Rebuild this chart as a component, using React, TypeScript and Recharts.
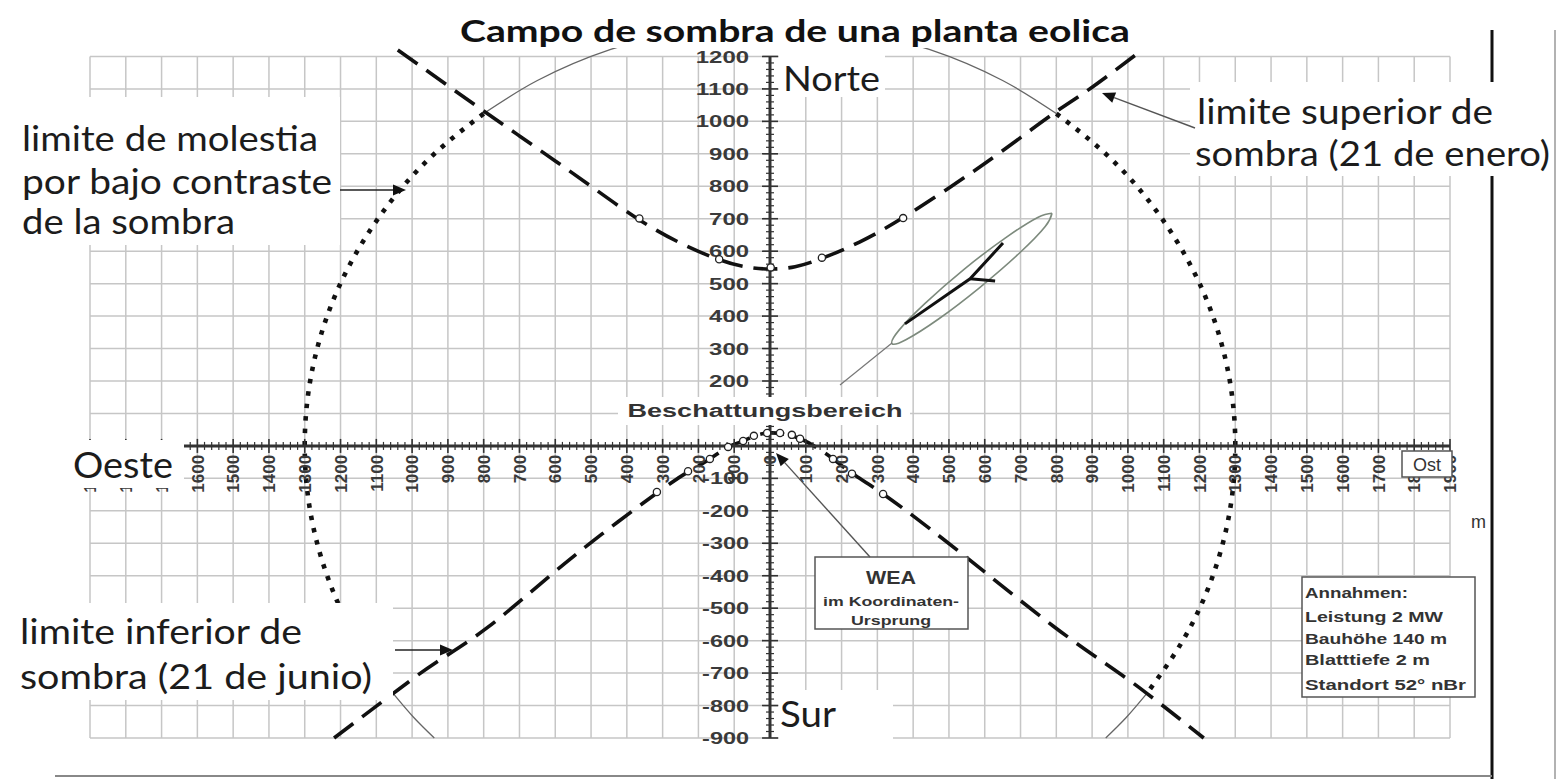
import React from 'react';
import { ComposedChart, XAxis, YAxis, Line, Scatter } from 'recharts';

const W = 1562;
const H = 779;

// axis ticks (m)
const xTicks = [
  -1900, -1800, -1700, -1600, -1500, -1400, -1300, -1200, -1100, -1000, -900, -800, -700, -600, -500, -400, -300, -200, -100,
  0, 100, 200, 300, 400, 500, 600, 700, 800, 900, 1000, 1100, 1200, 1300, 1400, 1500, 1600, 1700, 1800, 1900,
];
const yTicks = [-900, -800, -700, -600, -500, -400, -300, -200, -100, 0, 100, 200, 300, 400, 500, 600, 700, 800, 900, 1000, 1100, 1200];
const yTickLabels = [-900, -800, -700, -600, -500, -400, -300, -200, -100, 200, 300, 400, 500, 600, 700, 800, 900, 1000, 1100, 1200];

// limite superior de sombra (21 de enero)
const upperX = [-1040, -900, -800, -700, -600, -500, -370, -250, -145, -70, 0, 70, 145, 250, 370, 500, 600, 700, 800, 900, 1040];
const upperY = [1220, 1110, 1032, 955, 878, 800, 700, 625, 575, 552, 545, 552, 578, 628, 702, 795, 870, 950, 1030, 1105, 1220];
const upperMarkX = [-365, -142, 2, 145, 372];
const upperMarkY = [701, 575, 550, 580, 702];

// limite inferior de sombra (21 de junio)
const lowerX = [-1218, -1040, -930, -790, -620, -470, -316, -229, -168, -117, -75, -40, 0, 40, 84, 130, 176, 229, 316, 450, 606, 790, 930, 1050, 1212];
const lowerY = [-900, -752, -665, -560, -405, -272, -145, -80, -40, -3, 15, 32, 40, 36, 22, -5, -40, -84, -148, -258, -394, -554, -665, -760, -900];
const lowerMarkX = [-316, -229, -168, -117, -75, -45, -8, 28, 61, 84, 176, 229, 316];
const lowerMarkY = [-142, -78, -40, -3, 15, 31, 40, 40, 34, 22, -40, -86, -148];

// limite de molestia por bajo contraste (r = 1300 m)
const dotLeftX = [-800, -935, -1052, -1148, -1222, -1272, -1297, -1297, -1272, -1222, -1148, -1052];
const dotLeftY = [1024, 903, 764, 610, 445, 270, 91, -91, -270, -445, -610, -764];
const dotRightX = [800, 935, 1052, 1148, 1222, 1272, 1297, 1297, 1272, 1222, 1148, 1052];
const dotRightY = [1024, 903, 764, 610, 445, 270, 91, -91, -270, -445, -610, -764];
const arcTopX = [800, 650, 445, 226, 0, -226, -445, -650, -800];
const arcTopY = [1024, 1126, 1222, 1280, 1300, 1280, 1222, 1126, 1024];
const arcLowLeftX = [-1052, -996, -938];
const arcLowLeftY = [-764, -836, -900];
const arcLowRightX = [1052, 996, 938];
const arcLowRightY = [-764, -836, -900];

// Beschattungsbereich
const zoneX = [788, 769, 695, 586, 471, 381, 341, 360, 434, 543, 658, 748, 788];
const zoneY = [717, 676, 592, 488, 391, 328, 315, 356, 440, 545, 641, 704, 717];
const rotorX = [377, 559, 651];
const rotorY = [376, 515, 625];
const armX = [559, 629];
const armY = [515, 508];

const pts = (xs: number[], ys: number[]) => xs.map((x, i) => ({ x, y: ys[i] }));

const minorX: { x: number; y: number }[] = [];
for (let v = -1900; v <= 1900; v += 20) if (v % 100 !== 0) minorX.push({ x: v, y: 0 });
const minorY: { x: number; y: number }[] = [];
for (let v = -900; v <= 1200; v += 20) if (v % 100 !== 0) minorY.push({ x: 0, y: v });

const tickFont = "'Liberation Sans', Arial, sans-serif";
const ink = '#111';

const XMinor = (p: any) => <line x1={p.cx} x2={p.cx} y1={p.cy - 4} y2={p.cy + 4} stroke="#333" strokeWidth={1.2} />;
const YMinor = (p: any) => <line x1={p.cx - 4} x2={p.cx + 4} y1={p.cy} y2={p.cy} stroke="#333" strokeWidth={1.2} />;

const XMajor = (p: any) => (
  <g>
    <line x1={p.cx} x2={p.cx} y1={p.cy - 7} y2={p.cy + 7} stroke="#333" strokeWidth={1.6} />
    <text
      transform={`translate(${p.cx + 6.2},${p.cy + 9}) rotate(-90)`}
      textAnchor="end"
      fontFamily={tickFont}
      fontWeight="bold"
      fontSize={17}
      fill="#3a3a3a"
    >
      {Math.abs(p.payload.x)}
    </text>
  </g>
);

const YMajor = (p: any) => <line x1={p.cx - 8} x2={p.cx + 8} y1={p.cy} y2={p.cy} stroke="#333" strokeWidth={1.6} />;

const YLabel = (p: any) => {
  const s = String(p.payload.y);
  const len = s.replace('-', '').length * 13.3 + (s.startsWith('-') ? 7 : 0);
  return (
    <text
      x={p.cx - 21}
      y={p.cy}
      dy="0.36em"
      textAnchor="end"
      textLength={len}
      lengthAdjust="spacingAndGlyphs"
      fontFamily={tickFont}
      fontWeight="bold"
      fontSize={17}
      fill="#3a3a3a"
    >
      {s}
    </text>
  );
};

const Marker = (p: any) => <circle cx={p.cx} cy={p.cy} r={3.6} fill="#fff" stroke="#222" strokeWidth={1.3} />;

const Arrow = ({ x1, y1, x2, y2, color = '#222' }: { x1: number; y1: number; x2: number; y2: number; color?: string }) => {
  const a = Math.atan2(y2 - y1, x2 - x1);
  const L = 13;
  const w = 5.5;
  const bx = x2 - L * Math.cos(a);
  const by = y2 - L * Math.sin(a);
  const p1 = `${x2},${y2}`;
  const p2 = `${bx - w * Math.sin(a)},${by + w * Math.cos(a)}`;
  const p3 = `${bx + w * Math.sin(a)},${by - w * Math.cos(a)}`;
  return (
    <g>
      <line x1={x1} y1={y1} x2={bx} y2={by} stroke={color} strokeWidth={1.4} />
      <polygon points={`${p1} ${p2} ${p3}`} fill="#111" />
    </g>
  );
};

const lato = 'Lato, sans-serif';
const big = { fontFamily: lato, fontSize: 35, fill: '#1c1c1c' } as const;
const box = { fontFamily: tickFont, fontWeight: 'bold' as const, fill: '#333' };

const line = (key: string, data: { x: number; y: number }[], stroke: string, width: number, dash?: string, type: any = 'natural') => (
  <Line
    key={key}
    data={data}
    dataKey="y"
    type={type}
    stroke={stroke}
    strokeWidth={width}
    strokeDasharray={dash}
    dot={false}
    activeDot={false}
    legendType="none"
    isAnimationActive={false}
  />
);

export default function App() {
  return (
    <div style={{ position: 'absolute', left: 0, top: 0, width: W, height: H, background: '#fff' }}>
      <ComposedChart width={W} height={H} margin={{ top: 24, right: 112, bottom: 41, left: 90 }}>
        <XAxis type="number" dataKey="x" domain={[-1900, 1900]} hide />
        <YAxis type="number" dataKey="y" domain={[-900, 1300]} hide />

        {xTicks.map((v) => line(`gx${v}`, [{ x: v, y: -900 }, { x: v, y: 1200 }], '#c6c6c6', 1.5, undefined, 'linear'))}
        {yTicks.map((v) => line(`gy${v}`, [{ x: -1900, y: v }, { x: 1900, y: v }], '#c6c6c6', 1.5, undefined, 'linear'))}

        {line('arcTop', pts(arcTopX, arcTopY), '#666', 1.3)}
        {line('arcLL', pts(arcLowLeftX, arcLowLeftY), '#666', 1.3)}
        {line('arcLR', pts(arcLowRightX, arcLowRightY), '#666', 1.3)}
        {line('dotL', pts(dotLeftX, dotLeftY), ink, 4.6, '4.5 8')}
        {line('dotR', pts(dotRightX, dotRightY), ink, 4.6, '4.5 8')}
        {line('zone', pts(zoneX, zoneY), '#7d8a7d', 1.6)}
        {line('rotor', pts(rotorX, rotorY), ink, 3, undefined, 'linear')}
        {line('arm', pts(armX, armY), ink, 3, undefined, 'linear')}
        {line('upper', pts(upperX, upperY), ink, 3.6, '24 11')}
        {line('lower', pts(lowerX, lowerY), ink, 3.6, '24 11')}

        {line('axX', [{ x: -1900, y: 0 }, { x: 1900, y: 0 }], '#333', 3, undefined, 'linear')}
        {line('axY', [{ x: 0, y: -900 }, { x: 0, y: 1200 }], '#333', 3, undefined, 'linear')}

        <Scatter data={minorX} shape={XMinor} isAnimationActive={false} legendType="none" />
        <Scatter data={minorY} shape={YMinor} isAnimationActive={false} legendType="none" />
        <Scatter data={xTicks.map((x) => ({ x, y: 0 }))} shape={XMajor} isAnimationActive={false} legendType="none" />
        <Scatter data={yTicks.map((y) => ({ x: 0, y }))} shape={YMajor} isAnimationActive={false} legendType="none" />
        <Scatter data={yTickLabels.map((y) => ({ x: 0, y }))} shape={YLabel} isAnimationActive={false} legendType="none" />
        <Scatter data={pts(upperMarkX, upperMarkY)} shape={Marker} isAnimationActive={false} legendType="none" />
        <Scatter data={pts(lowerMarkX, lowerMarkY)} shape={Marker} isAnimationActive={false} legendType="none" />
      </ComposedChart>

      <svg width={W} height={H} style={{ position: 'absolute', left: 0, top: 0, pointerEvents: 'none' }}>
        <line x1={1492} y1={30} x2={1492} y2={779} stroke="#111" strokeWidth={3} />
        <line x1={1555} y1={30} x2={1555} y2={779} stroke="#999" strokeWidth={1.5} />
        <line x1={55} y1={776} x2={1492} y2={776} stroke="#888" strokeWidth={2} />

        <rect x={455} y={4} width={680} height={44} fill="#fff" />
        <rect x={779} y={52} width={106} height={45} fill="#fff" />
        <rect x={779} y={690} width={114} height={56} fill="#fff" />
        <rect x={62} y={440} width={122} height={48} fill="#fff" />
        <rect x={0} y={97} width={340} height={148} fill="#fff" />
        <rect x={1190} y={82} width={362} height={94} fill="#fff" />
        <rect x={0} y={603} width={393} height={97} fill="#fff" />
        <rect x={618} y={397} width={292} height={28} fill="#fff" />

        <text x={795} y={42} textAnchor="middle" textLength={670} lengthAdjust="spacingAndGlyphs" fontFamily={lato} fontWeight="bold" fontSize={31} fill="#111">
          Campo de sombra de una planta eolica
        </text>
        <text x={783} y={91} textLength={97} lengthAdjust="spacingAndGlyphs" {...big} fontSize={34}>Norte</text>
        <text x={780} y={727} textLength={56} lengthAdjust="spacingAndGlyphs" {...big} fontSize={37}>Sur</text>
        <text x={73} y={478} textLength={100} lengthAdjust="spacingAndGlyphs" {...big} fontSize={36}>Oeste</text>

        <text x={22} y={151} textLength={296} lengthAdjust="spacingAndGlyphs" {...big}>limite de molestia</text>
        <text x={22} y={194} textLength={310} lengthAdjust="spacingAndGlyphs" {...big}>por bajo contraste</text>
        <text x={22} y={234} textLength={213} lengthAdjust="spacingAndGlyphs" {...big}>de la sombra</text>
        <Arrow x1={340} y1={190} x2={406} y2={190} />

        <text x={1197} y={124} textLength={296} lengthAdjust="spacingAndGlyphs" {...big}>limite superior de</text>
        <text x={1195} y={166} textLength={355} lengthAdjust="spacingAndGlyphs" {...big}>sombra (21 de enero)</text>
        <Arrow x1={1195} y1={128} x2={1102} y2={93} color="#555" />

        <text x={20} y={644} textLength={282} lengthAdjust="spacingAndGlyphs" {...big}>limite inferior de</text>
        <text x={20} y={689} textLength={352} lengthAdjust="spacingAndGlyphs" {...big}>sombra (21 de junio)</text>
        <Arrow x1={395} y1={650} x2={453} y2={650} />

        <text x={765} y={417} textAnchor="middle" textLength={275} lengthAdjust="spacingAndGlyphs" {...box} fontSize={18}>
          Beschattungsbereich
        </text>
        <line x1={840} y1={385} x2={892} y2={343} stroke="#777" strokeWidth={1.2} />

        <rect x={815} y={557} width={153} height={72} fill="#fff" stroke="#555" strokeWidth={1.5} />
        <text x={891} y={584} textAnchor="middle" textLength={50} lengthAdjust="spacingAndGlyphs" {...box} fontSize={18}>WEA</text>
        <text x={891} y={606} textAnchor="middle" textLength={136} lengthAdjust="spacingAndGlyphs" {...box} fontSize={13}>im Koordinaten-</text>
        <text x={891} y={625} textAnchor="middle" textLength={80} lengthAdjust="spacingAndGlyphs" {...box} fontSize={13}>Ursprung</text>
        <Arrow x1={870} y1={557} x2={776} y2={453} color="#555" />

        <rect x={1302} y={577} width={173} height={120} fill="#fff" stroke="#555" strokeWidth={1.5} />
        <text x={1305} y={598} textLength={103} lengthAdjust="spacingAndGlyphs" {...box} fontSize={14}>Annahmen:</text>
        <text x={1305} y={622} textLength={138} lengthAdjust="spacingAndGlyphs" {...box} fontSize={14}>Leistung 2 MW</text>
        <text x={1305} y={644} textLength={142} lengthAdjust="spacingAndGlyphs" {...box} fontSize={14}>Bauhöhe 140 m</text>
        <text x={1305} y={665} textLength={125} lengthAdjust="spacingAndGlyphs" {...box} fontSize={14}>Blatttiefe 2 m</text>
        <text x={1305} y={690} textLength={161} lengthAdjust="spacingAndGlyphs" {...box} fontSize={14}>Standort 52° nBr</text>

        <rect x={1402} y={451} width={50} height={26} fill="#fff" stroke="#555" strokeWidth={1.5} />
        <text x={1427} y={471} textAnchor="middle" {...box} fontWeight="normal" fontSize={18}>Ost</text>
        <text x={1471} y={528} {...box} fontWeight="normal" fontSize={18}>m</text>
      </svg>
    </div>
  );
}
